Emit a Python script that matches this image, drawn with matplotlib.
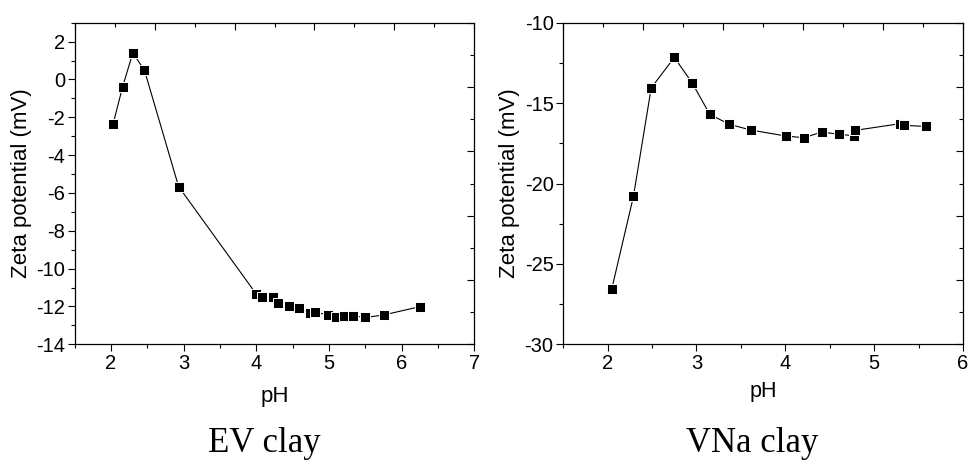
import matplotlib
matplotlib.use("Agg")
import matplotlib.pyplot as plt
from matplotlib.ticker import MultipleLocator

plt.rcParams['font.family'] = ['Liberation Sans', 'DejaVu Sans']
plt.rcParams['axes.unicode_minus'] = False

# EV clay: pH vs zeta potential (mV)
ev_ph = [2.03, 2.16, 2.30, 2.46, 2.93, 4.00, 4.08, 4.23, 4.30, 4.45, 4.59,
         4.74, 4.81, 4.99, 5.09, 5.20, 5.33, 5.50, 5.75, 6.25]
ev_zeta = [-2.33, -0.38, 1.40, 0.49, -5.66, -11.35, -11.52, -11.52, -11.84,
           -11.96, -12.10, -12.37, -12.31, -12.44, -12.54, -12.52, -12.49,
           -12.58, -12.45, -12.01]

# VNa clay
vna_ph = [2.045, 2.29, 2.49, 2.75, 2.95, 3.15, 3.37, 3.61, 4.01, 4.21, 4.41,
          4.61, 4.77, 4.79, 5.29, 5.34, 5.58]
vna_zeta = [-26.58, -20.80, -14.06, -12.16, -13.73, -15.70, -16.32, -16.67,
            -17.05, -17.15, -16.80, -16.94, -17.03, -16.69, -16.28, -16.38,
            -16.45]

fig = plt.figure(figsize=(9.7, 4.61), dpi=100)


def panel(rect, x, y, xlim, ylim, ymajor, yminor, caption, cap_x,
          xl_size, xl_pad):
    ax = fig.add_axes(rect)
    ax.plot(x, y, color='black', lw=0.8, marker='s', ms=7,
            mfc='black', mec='white', mew=0.7)
    ax.set_xlim(*xlim)
    ax.set_ylim(*ylim)
    ax.xaxis.set_major_locator(MultipleLocator(1))
    ax.xaxis.set_minor_locator(MultipleLocator(0.5))
    ax.yaxis.set_major_locator(MultipleLocator(ymajor))
    ax.yaxis.set_minor_locator(MultipleLocator(yminor))
    ax.tick_params(which='both', direction='out', top=False, right=False,
                   width=0.8, labelsize=14.5, pad=2)
    ax.tick_params(which='major', length=5)
    ax.tick_params(which='minor', length=3)
    for s in ax.spines.values():
        s.set_linewidth(0.9)
    ax.set_xlabel('pH', fontsize=xl_size, labelpad=xl_pad)
    ax.set_ylabel('Zeta potential (mV)', fontsize=16, labelpad=3)

    # mirrored top/right axis with its own inward ticks
    ov = fig.add_axes(rect, frameon=False)
    ov.set_xlim(0, 1)
    ov.set_ylim(0, 1)
    ov.patch.set_visible(False)
    ov.xaxis.set_major_locator(MultipleLocator(0.2))
    ov.xaxis.set_minor_locator(MultipleLocator(0.1))
    ov.yaxis.set_major_locator(MultipleLocator(0.2))
    ov.yaxis.set_minor_locator(MultipleLocator(0.1))
    ov.tick_params(which='both', direction='in', top=True, right=True,
                   bottom=False, left=False, labelbottom=False,
                   labelleft=False, width=0.8)
    ov.tick_params(which='major', length=5)
    ov.tick_params(which='minor', length=3)

    fig.text(cap_x, 0.019, caption, ha='center', va='baseline',
             fontsize=25, family=['Liberation Serif', 'DejaVu Serif'])
    return ax


panel([0.0770, 0.2531, 0.412, 0.6976], ev_ph, ev_zeta, (1.5, 7), (-14, 3),
      2, 1, 'EV clay', 0.272, 16, 9)
panel([0.5807, 0.2531, 0.412, 0.6976], vna_ph, vna_zeta, (1.5, 6), (-30, -10),
      5, 2.5, 'VNa clay', 0.775, 15.5, 6)

fig.savefig('out.png', dpi=100)
